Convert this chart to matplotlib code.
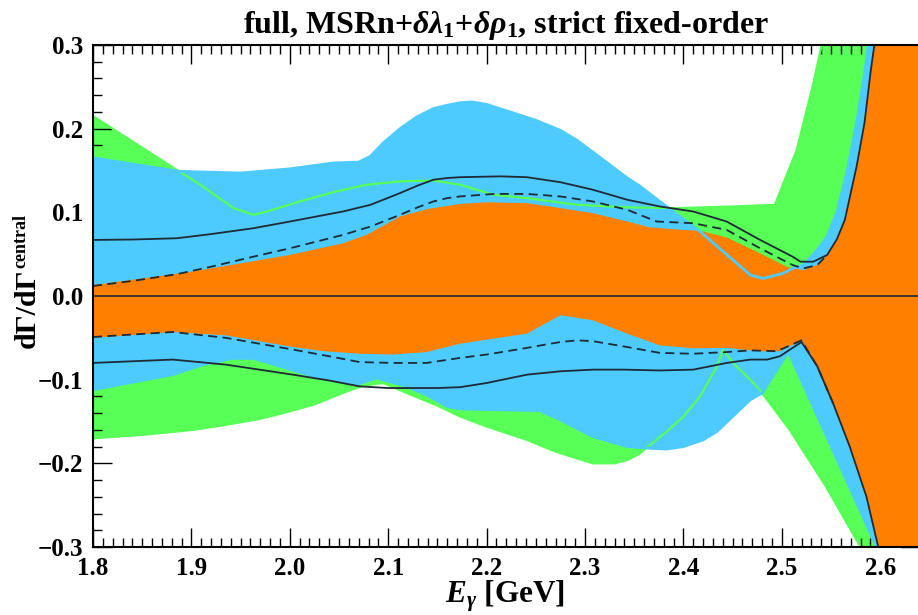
import numpy as np
import matplotlib
matplotlib.use("Agg")
import matplotlib.pyplot as plt
from matplotlib.ticker import MultipleLocator

plt.rcParams['font.family'] = ['Liberation Serif', 'DejaVu Serif']
plt.rcParams['font.weight'] = 'bold'
plt.rcParams['mathtext.fontset'] = 'custom'
plt.rcParams['mathtext.rm'] = 'Liberation Serif:bold'
plt.rcParams['mathtext.it'] = 'Liberation Serif:italic:bold'
plt.rcParams['mathtext.bf'] = 'Liberation Serif:bold'

# green band (widest), upper and lower edge
green_hi_x = [1.80, 1.888, 1.909, 1.943, 1.963, 1.977, 2.010, 2.044, 2.078, 2.112, 2.146,
              2.173, 2.207, 2.241, 2.292, 2.343, 2.393, 2.450, 2.493, 2.503, 2.515, 2.532,
              2.5405, 2.56, 2.66]
green_hi_y = [0.215, 0.1485, 0.133, 0.105, 0.097, 0.101, 0.113, 0.124, 0.133, 0.137, 0.138,
              0.133, 0.121, 0.117, 0.109, 0.106, 0.105, 0.107, 0.109, 0.139, 0.174, 0.254,
              0.300, 0.45, 1.0]
green_lo_x = [1.80, 1.85, 1.902, 1.935, 1.969, 1.99, 2.024, 2.058, 2.075, 2.095, 2.119,
              2.150, 2.173, 2.200, 2.241, 2.270, 2.308, 2.330, 2.343, 2.355, 2.366, 2.383,
              2.400, 2.417, 2.434, 2.440, 2.454, 2.468, 2.478, 2.508, 2.545, 2.580, 2.66]
green_lo_y = [-0.170, -0.166, -0.160, -0.154, -0.147, -0.141, -0.130, -0.114, -0.107, -0.104,
              -0.116, -0.131, -0.144, -0.156, -0.172, -0.186, -0.200, -0.200, -0.196, -0.189,
              -0.178, -0.162, -0.144, -0.120, -0.0845, -0.0645, -0.0845, -0.100, -0.113,
              -0.160, -0.228, -0.300, -1.0]

# blue band
blue_hi_x = [1.80, 1.888, 1.95, 2.00, 2.044, 2.070, 2.082, 2.095, 2.112, 2.129, 2.146, 2.160,
             2.173, 2.185, 2.200, 2.224, 2.250, 2.275, 2.292, 2.308, 2.325, 2.343, 2.355,
             2.366, 2.385, 2.417, 2.468, 2.481, 2.501, 2.511, 2.522, 2.536, 2.546, 2.556,
             2.566, 2.576, 2.584, 2.588, 2.60, 2.66]
blue_hi_y = [0.165, 0.149, 0.147, 0.152, 0.159, 0.160, 0.167, 0.183, 0.200, 0.214, 0.224, 0.228,
             0.231, 0.232, 0.229, 0.220, 0.210, 0.198, 0.186, 0.172, 0.157, 0.141, 0.132,
             0.122, 0.105, 0.077, 0.025, 0.021, 0.027, 0.033, 0.037, 0.055, 0.071, 0.100,
             0.147, 0.207, 0.266, 0.300, 0.40, 1.0]
blue_lo_x = [1.80, 1.881, 1.912, 1.942, 1.963, 1.99, 2.024, 2.058, 2.070, 2.088, 2.119, 2.142,
             2.160, 2.173, 2.254, 2.275, 2.308, 2.343, 2.366, 2.383, 2.400, 2.420, 2.434,
             2.450, 2.468, 2.480, 2.5066, 2.5964, 2.66]
blue_lo_y = [-0.112, -0.094, -0.082, -0.0745, -0.0745, -0.084, -0.096, -0.104, -0.105, -0.098,
             -0.108, -0.120, -0.132, -0.135, -0.137, -0.148, -0.168, -0.180, -0.182, -0.183,
             -0.180, -0.172, -0.162, -0.144, -0.124, -0.116, -0.0665, -0.300, -1.0]

# orange band
orange_hi_x = [1.80, 1.90, 2.00, 2.054, 2.078, 2.112, 2.140, 2.173, 2.200, 2.241, 2.270, 2.308,
               2.343, 2.366, 2.400, 2.417, 2.444, 2.478, 2.505, 2.522, 2.536, 2.546, 2.556,
               2.564, 2.576, 2.584, 2.590, 2.594, 2.60, 2.66]
orange_hi_y = [0.013, 0.029, 0.049, 0.063, 0.073, 0.095, 0.104, 0.110, 0.112, 0.111, 0.106, 0.099,
               0.089, 0.082, 0.079, 0.078, 0.070, 0.051, 0.035, 0.031, 0.037, 0.049, 0.068,
               0.091, 0.155, 0.207, 0.266, 0.300, 0.40, 1.0]
orange_lo_x = [1.80, 1.881, 1.935, 2.003, 2.035, 2.071, 2.105, 2.139, 2.173, 2.207, 2.241, 2.258,
               2.275, 2.308, 2.343, 2.376, 2.410, 2.444, 2.478, 2.498, 2.520, 2.536, 2.552,
               2.569, 2.586, 2.598, 2.60, 2.66]
orange_lo_y = [-0.050, -0.043, -0.047, -0.061, -0.066, -0.069, -0.070, -0.067, -0.057, -0.051,
               -0.045, -0.034, -0.023, -0.029, -0.045, -0.059, -0.0625, -0.062, -0.066, -0.066,
               -0.053, -0.084, -0.128, -0.180, -0.240, -0.300, -0.31, -1.0]

# central curves
solid_hi_x = [1.80, 1.84, 1.885, 1.92, 1.963, 2.00, 2.054, 2.082, 2.112, 2.130, 2.146, 2.160,
              2.173, 2.214, 2.241, 2.275, 2.308, 2.343, 2.376, 2.410, 2.444, 2.478, 2.511,
              2.519, 2.532, 2.546, 2.556, 2.564, 2.576, 2.584, 2.590, 2.594, 2.60]
solid_hi_y = [0.067, 0.0675, 0.069, 0.074, 0.081, 0.089, 0.101, 0.109, 0.123, 0.132, 0.139, 0.141,
              0.142, 0.143, 0.142, 0.136, 0.127, 0.115, 0.107, 0.101, 0.089, 0.067, 0.047,
              0.041, 0.041, 0.049, 0.068, 0.091, 0.155, 0.207, 0.266, 0.300, 0.40]
dash_hi_x = [1.80, 1.84, 1.885, 1.92, 1.963, 2.00, 2.054, 2.082, 2.112, 2.130, 2.146, 2.160,
             2.173, 2.207, 2.241, 2.275, 2.308, 2.343, 2.373, 2.410, 2.444, 2.478, 2.511,
             2.522, 2.536, 2.546]
dash_hi_y = [0.012, 0.018, 0.026, 0.035, 0.047, 0.057, 0.073, 0.083, 0.097, 0.106, 0.113, 0.117,
             0.119, 0.122, 0.122, 0.119, 0.113, 0.103, 0.089, 0.087, 0.079, 0.057, 0.037,
             0.033, 0.037, 0.049]
solid_lo_x = [1.80, 1.84, 1.881, 1.935, 2.003, 2.040, 2.071, 2.100, 2.122, 2.150, 2.173, 2.200,
              2.241, 2.275, 2.308, 2.340, 2.376, 2.410, 2.444, 2.468, 2.485, 2.498, 2.520,
              2.536, 2.552, 2.569, 2.586, 2.598, 2.60]
solid_lo_y = [-0.080, -0.078, -0.076, -0.082, -0.094, -0.101, -0.108, -0.110, -0.110, -0.110,
              -0.109, -0.104, -0.094, -0.090, -0.088, -0.088, -0.089, -0.088, -0.080, -0.076,
              -0.076, -0.072, -0.055, -0.084, -0.128, -0.180, -0.240, -0.300, -0.31]
dash_lo_x = [1.80, 1.881, 1.935, 2.003, 2.040, 2.071, 2.105, 2.139, 2.173, 2.200, 2.241, 2.260,
             2.275, 2.292, 2.308, 2.343, 2.376, 2.410, 2.444, 2.468, 2.495, 2.520, 2.536, 2.552]
dash_lo_y = [-0.049, -0.043, -0.050, -0.064, -0.072, -0.079, -0.080, -0.080, -0.074, -0.070,
             -0.062, -0.058, -0.055, -0.053, -0.054, -0.061, -0.068, -0.069, -0.067, -0.065,
             -0.066, -0.053, -0.084, -0.128]

xticks = [1.8, 1.9, 2.0, 2.1, 2.2, 2.3, 2.4, 2.5, 2.6]
xticklabels = ['1.8', '1.9', '2.0', '2.1', '2.2', '2.3', '2.4', '2.5', '2.6']
yticks = [-0.3, -0.2, -0.1, 0.0, 0.1, 0.2, 0.3]
yticklabels = ['\u22120.3', '\u22120.2', '\u22120.1', '0.0', '0.1', '0.2', '0.3']

GREEN = '#57ff57'
BLUE = '#4dcbff'
ORANGE = '#ff7f00'
DARK = '#1e2a35'


def band(ax, hx, hy, lx, ly, color, z):
    px = np.concatenate([hx, lx[::-1]])
    py = np.concatenate([hy, ly[::-1]])
    ax.fill(px, py, color=color, lw=0, zorder=z)


fig = plt.figure(figsize=(9.18, 6.15), dpi=100)
ax = fig.add_axes([93 / 918, 68 / 615, 826.6 / 918, 502 / 615])

band(ax, green_hi_x, green_hi_y, green_lo_x, green_lo_y, GREEN, 1)
band(ax, blue_hi_x, blue_hi_y, blue_lo_x, blue_lo_y, BLUE, 2)
band(ax, orange_hi_x, orange_hi_y, orange_lo_x, orange_lo_y, ORANGE, 3)

# band edges stay visible where they run inside other bands
ax.plot(green_hi_x, green_hi_y, color=GREEN, lw=1.6, zorder=4)
ax.plot(green_lo_x, green_lo_y, color=GREEN, lw=1.6, zorder=4)
ax.plot(blue_hi_x, blue_hi_y, color=BLUE, lw=2.0, zorder=4)
ax.plot(blue_lo_x, blue_lo_y, color=BLUE, lw=2.0, zorder=4)

ax.axhline(0.0, color=DARK, lw=1.2, zorder=5)
ax.plot(solid_hi_x, solid_hi_y, color=DARK, lw=1.3, zorder=6)
ax.plot(solid_lo_x, solid_lo_y, color=DARK, lw=1.3, zorder=6)
ax.plot(dash_hi_x, dash_hi_y, color=DARK, lw=1.3, ls=(0, (5, 3)), zorder=6)
ax.plot(dash_lo_x, dash_lo_y, color=DARK, lw=1.3, ls=(0, (5, 3)), zorder=6)

ax.set_xlim(1.8, 2.64)
ax.set_ylim(-0.3, 0.3)
ax.set_xticks(xticks)
ax.set_xticklabels(xticklabels)
ax.set_yticks(yticks)
ax.set_yticklabels(yticklabels)
ax.xaxis.set_minor_locator(MultipleLocator(0.01))
ax.yaxis.set_minor_locator(MultipleLocator(0.02))
ax.tick_params(which='both', direction='in', top=True, right=True, width=1.0, color='black')
ax.tick_params(which='major', length=14, labelsize=18)
ax.tick_params(which='minor', length=6.5)
ax.tick_params(axis='x', pad=7)
ax.tick_params(axis='y', pad=7)
for lab in ax.get_xticklabels() + ax.get_yticklabels():
    lab.set_fontweight('bold')
for s in ax.spines.values():
    s.set_linewidth(1.5)
    s.set_zorder(10)

ax.set_title(r'full, MSRn+$\delta\lambda_1$+$\delta\rho_1$, strict fixed-order',
             fontsize=23, fontweight='bold', pad=9)

# x label placed by its baseline so it sits between tick labels and bottom edge
fig.text(505 / 918, 1 - 602 / 615, r'$E_\gamma$ [GeV]', ha='center', va='baseline',
         fontsize=22.5, fontweight='bold')

# y label: main part and a small raised "central"
fig.text(35 / 918, 1 - 268 / 615, 'd\u0393/d\u0393', rotation=90, rotation_mode='anchor',
         ha='right', va='baseline', fontsize=21.5, fontweight='bold')
fig.text(25 / 918, 1 - 268 / 615, 'central', rotation=90, rotation_mode='anchor',
         ha='left', va='baseline', fontsize=13, fontweight='bold')

fig.savefig('out.png', dpi=100)
